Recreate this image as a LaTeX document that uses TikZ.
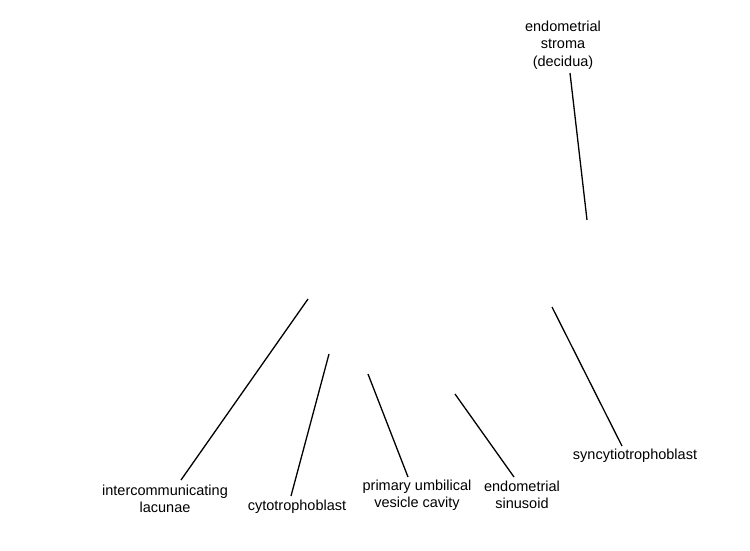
\documentclass[tikz,border=0pt]{standalone}
\usepackage{fontspec}
\setmainfont{Liberation Sans}
\begin{document}
\begin{tikzpicture}[x=1pt,y=-1pt,
  lbl/.style={align=center,font=\fontsize{14.5}{17.5}\selectfont,inner sep=0pt},
  lead/.style={line width=1.3pt,black}]
\useasboundingbox (0,0) rectangle (750,550);
% labels
\node[lbl] (stroma) at (563,45) {endometrial\\stroma\\(decidua)};
\node[lbl] (lacunae) at (165,499) {intercommunicating\\lacunae};
\node[lbl] (cyto) at (297,507) {cytotrophoblast};
\node[lbl] (puv) at (417,495) {primary umbilical\\vesicle cavity};
\node[lbl] (sinus) at (522,495) {endometrial\\sinusoid};
\node[lbl] (syn) at (635,456) {syncytiotrophoblast};
% line ends
\coordinate (a1) at (570,73);  \coordinate (a2) at (587,220);
\coordinate (b1) at (308,299); \coordinate (b2) at (181,480);
\coordinate (c1) at (329,354); \coordinate (c2) at (291,496);
\coordinate (d1) at (368,374); \coordinate (d2) at (408,477);
\coordinate (e1) at (455,394); \coordinate (e2) at (514,477);
\coordinate (f1) at (552,307); \coordinate (f2) at (622,446);
\draw[lead] (a1) -- (a2);
\draw[lead] (b1) -- (b2);
\draw[lead] (c1) -- (c2);
\draw[lead] (d1) -- (d2);
\draw[lead] (e1) -- (e2);
\draw[lead] (f1) -- (f2);
\end{tikzpicture}
\end{document}
